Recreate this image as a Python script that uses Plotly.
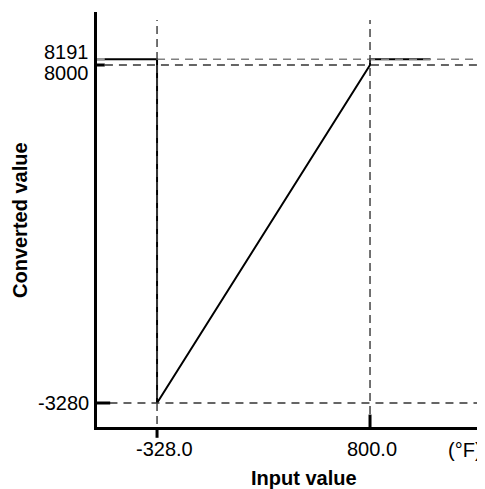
import plotly.graph_objects as go

# ---- data ----
input_values = [-646, -328, -328, 800, 800, 1120]
converted_values = [8191, 8191, -3280, 8000, 8191, 8191]
x_ticks = [-328, 800]
x_tick_labels = ["-328.0", "800.0"]
y_ticks = [8191, 8000, -3280]
y_tick_labels = ["8191", "8000", "-3280"]
x_range = [-646, 1409]
y_range = [-4081, 9769]

FONT = "Liberation Sans, Arial, sans-serif"
OFF = 8  # page body margin offset

fig = go.Figure()
fig.add_trace(go.Scatter(x=input_values, y=converted_values, mode="lines",
                         line=dict(color="black", width=2), hoverinfo="skip",
                         showlegend=False))

shapes = []
# horizontal dashed reference lines
shapes.append(dict(type="line", xref="x", yref="y", x0=x_ticks[0], x1=1377,
                   y0=y_ticks[0], y1=y_ticks[0],
                   line=dict(color="#808080", width=1.5, dash="8px,6px")))
shapes.append(dict(type="line", xref="x", yref="y", x0=-604, x1=1377,
                   y0=y_ticks[1], y1=y_ticks[1],
                   line=dict(color="#333333", width=1.3, dash="8px,6px")))
shapes.append(dict(type="line", xref="x", yref="y", x0=-580, x1=1377,
                   y0=y_ticks[2], y1=y_ticks[2],
                   line=dict(color="#333333", width=1.3, dash="8px,6px")))
# vertical dashed reference lines
shapes.append(dict(type="line", xref="x", yref="paper", x0=x_ticks[0], x1=x_ticks[0],
                   y0=-0.024, y1=0.981,
                   line=dict(color="#444444", width=1.5, dash="8px,5px")))
shapes.append(dict(type="line", xref="x", yref="paper", x0=x_ticks[1], x1=x_ticks[1],
                   y0=0, y1=0.981,
                   line=dict(color="#444444", width=1.5, dash="8px,5px")))
# y tick marks
shapes.append(dict(type="line", xref="paper", yref="y", x0=0, x1=0.02,
                   y0=y_ticks[0], y1=y_ticks[0], line=dict(color="#999999", width=2.5)))
shapes.append(dict(type="line", xref="paper", yref="y", x0=0, x1=0.02,
                   y0=y_ticks[1], y1=y_ticks[1], line=dict(color="black", width=3)))
shapes.append(dict(type="line", xref="paper", yref="y", x0=0, x1=0.034,
                   y0=y_ticks[2], y1=y_ticks[2], line=dict(color="black", width=3)))
# x tick marks
shapes.append(dict(type="line", xref="x", yref="paper", x0=x_ticks[0], x1=x_ticks[0],
                   y0=-0.026, y1=0, line=dict(color="black", width=3)))
shapes.append(dict(type="line", xref="x", yref="paper", x0=x_ticks[1], x1=x_ticks[1],
                   y0=0, y1=0.03, line=dict(color="black", width=3)))

annotations = []
for v, t, dx in zip(x_ticks, x_tick_labels, [7, 2]):
    annotations.append(dict(x=v, y=0, xref="x", yref="paper", text=t, showarrow=False,
                            xanchor="center", yanchor="middle", xshift=dx, yshift=-22,
                            font=dict(family=FONT, size=20, color="black")))
for v, t, dy in zip(y_ticks, y_tick_labels, [7, -8, 0]):
    annotations.append(dict(x=0, y=v, xref="paper", yref="y", text=t, showarrow=False,
                            xanchor="right", yanchor="middle", xshift=-6, yshift=dy,
                            font=dict(family=FONT, size=20, color="black")))
annotations.append(dict(x=(465 - 97) / 388, y=0, xref="paper", yref="paper", text="(°F)",
                        showarrow=False, xanchor="center", yanchor="middle",
                        yshift=-23, font=dict(family=FONT, size=20, color="black")))
annotations.append(dict(x=(304 - 97) / 388, y=0, xref="paper", yref="paper",
                        text="<b>Input value</b>", showarrow=False, xanchor="center",
                        yanchor="middle", yshift=-51,
                        font=dict(family=FONT, size=20, color="black")))
annotations.append(dict(x=0, y=(427 - 220) / 415, xref="paper", yref="paper",
                        text="<b>Converted value</b>", showarrow=False, textangle=-90,
                        xanchor="center", yanchor="middle", xshift=-77,
                        font=dict(family=FONT, size=20, color="black")))

fig.update_layout(
    width=485 - OFF, height=489 - OFF,
    margin=dict(l=97 - OFF, r=0, t=12 - OFF, b=62, pad=0),
    paper_bgcolor="white", plot_bgcolor="white",
    shapes=shapes, annotations=annotations,
    xaxis=dict(range=x_range, showgrid=False, zeroline=False, showticklabels=False,
               ticks="", showline=True, linecolor="black", linewidth=3, fixedrange=True),
    yaxis=dict(range=y_range, showgrid=False, zeroline=False, showticklabels=False,
               ticks="", showline=True, linecolor="black", linewidth=3, fixedrange=True),
)

fig.write_html("out.html")
